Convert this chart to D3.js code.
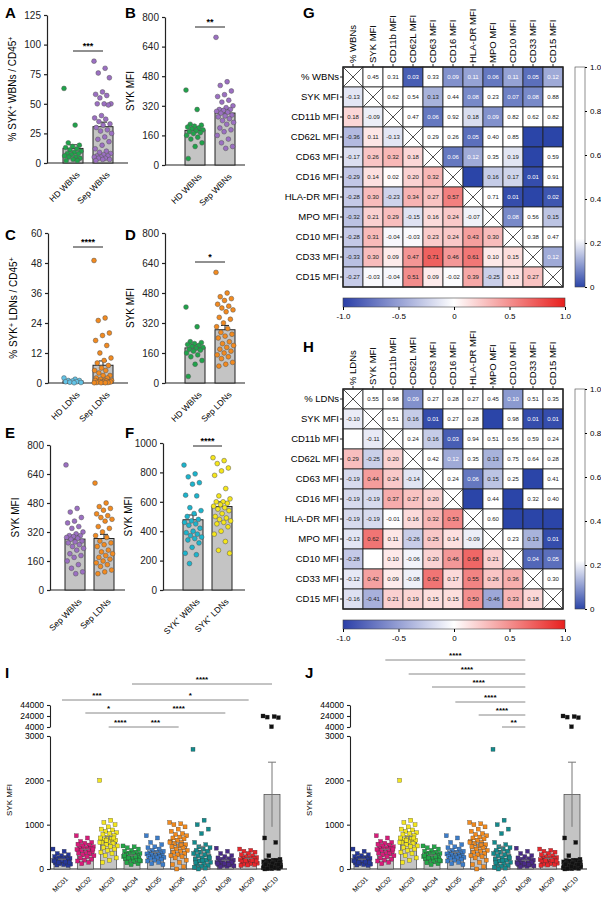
<!DOCTYPE html>
<html><head><meta charset="utf-8">
<script src="https://cdn.jsdelivr.net/npm/d3@7"></script>
<style>body{margin:0;background:#fff}svg{font-family:"Liberation Sans",Arial,sans-serif}</style>
</head><body>
<svg id="fig" width="601" height="900"></svg>
<script>
// ---- data ----
var hdWBN_pct = [63,32,17,15,14,13,12,11,10,9,8,8,7,6,5,5,4,3,2,2];
var sepWBN_pct = [86,80,76,72,60,58,57,55,50,50,50,49,40,38,37,35,33,32,30,28,27,25,22,20,18,15,12,10,9,8,7,6,6,5,5,4,4,3,3,2];
var hdWBN_mfi = [405,300,220,215,210,205,200,195,190,185,180,175,170,160,150,140,120,100,35];
var sepWBN_mfi = [690,450,430,400,380,370,350,340,320,310,300,300,295,290,285,280,270,265,260,250,240,230,220,200,190,180,160,140,120,100,90];
var hdLDN_pct = [2,1.5,1,1,0.8,0.5,0.5,0.3,0.2,0.1];
var sepLDN_pct = [49,26,25,20,19,17,15,12,10,9,8,7,6,5,5,4,3,3,2,2,1.5,1,1,0.5,0.5,0.3,1,0.8,0.6,0.4,0.3,0.2,0.2,0.1,0.1,0.1];
var sepLDN_mfi = [590,480,460,450,440,420,410,400,390,380,350,340,320,300,290,270,260,250,240,220,210,200,190,180,170,160,150,140,130,110,100,90];
var sykWBN_mfi = [850,790,770,730,720,645,640,560,540,520,500,480,470,460,450,440,420,400,390,380,370,360,350,340,320,290,250,240,180];
var sykLDN_mfi = [900,880,860,830,810,780,690,640,620,600,600,590,580,570,560,550,540,520,500,490,480,470,460,450,430,400,380,330,270,250];

var clusters = ["MC01","MC02","MC03","MC04","MC05","MC06","MC07","MC08","MC09","MC10"];
var clusterColors = ["#26379a","#d81b7a","#f2e51e","#23a647","#3b7cc9","#f28a1c","#138a8c","#4a2a88","#e8262b","#111111"];
var clusterValues = [
  [450,400,350,320,300,280,260,250,240,230,220,210,200,190,180,170,160,150,140,130,120,110,100,90,80,200,180,160,150,140],
  [750,700,620,600,580,560,540,520,500,480,470,460,450,440,430,420,400,380,360,340,320,300,280,250,220,200,180,150,120,450],
  [2000,1100,1050,1000,950,900,880,850,820,800,780,750,720,700,680,660,650,620,600,580,550,520,500,480,450,420,380,350,300,250,200,150,700,650,600],
  [520,500,480,450,420,400,380,360,350,340,320,300,290,280,270,260,250,240,230,220,200,180,160,140,120,100,300,280,250,200],
  [750,700,600,550,500,480,450,420,400,380,370,360,350,340,330,320,310,300,290,280,270,260,250,240,220,200,180,150,120,100],
  [1050,1020,1000,950,900,850,800,780,750,720,700,680,650,620,600,580,550,520,500,480,450,420,400,380,350,320,300,280,250,200,150,100,50,0,600,550],
  [2700,1100,1000,900,800,600,550,500,480,450,420,400,380,350,320,300,280,250,220,200,180,150,120,100,80,60,40,20,0,250,200,150],
  [470,400,350,300,280,250,230,220,200,190,180,170,160,150,140,130,120,110,100,90,80,70,60,50,150,130,120,100],
  [450,420,400,380,350,320,300,280,260,250,240,230,220,210,200,190,180,170,160,150,140,130,120,110,100,90,80,200,190,180],
  [24000,23000,22000,21000,4500,700,600,300,220,200,190,180,170,160,150,140,130,120,110,100,95,90,85,80,75,70,65,60,55,50,45,40,35,30,25,20,15,10,5,0,200,180,160,140,120,100,80,60,40,20,150,130,110,90,70,50,30,10,100,60]
];
var sigI = [{a:0,b:3,lab:"***",y:700},{a:1,b:3,lab:"*",y:713},{a:2,b:3,lab:"****",y:727},
            {a:3,b:9,lab:"****",y:684},{a:3,b:8,lab:"*",y:700},{a:3,b:7,lab:"****",y:713},{a:3,b:5,lab:"***",y:727}];
var sigJ = [{a:1,b:7,lab:"****",y:660},{a:2,b:7,lab:"****",y:674},{a:3,b:7,lab:"****",y:687},
            {a:4,b:7,lab:"****",y:702},{a:5,b:7,lab:"****",y:715},{a:6,b:7,lab:"**",y:727}];

var markers = ["% WBNs","SYK MFI","CD11b MFI","CD62L MFI","CD63 MFI","CD16 MFI","HLA-DR MFI","MPO MFI","CD10 MFI","CD33 MFI","CD15 MFI"];
var markersH = ["% LDNs"].concat(markers.slice(1));
var rG = [[-0.13],[0.18,-0.09],[-0.36,0.11,-0.13],[-0.17,0.26,0.32,0.18],[-0.29,0.14,0.02,0.20,0.32],
  [-0.28,0.30,-0.23,0.34,0.27,0.57],[-0.32,0.21,0.29,-0.15,0.16,0.24,-0.07],[-0.28,0.31,-0.04,-0.03,0.23,0.24,0.43,0.30],
  [-0.33,0.30,0.09,0.47,0.71,0.46,0.61,0.10,0.15],[-0.27,-0.03,-0.04,0.51,0.09,-0.02,0.39,-0.25,0.13,0.27]];
var pG = [[0.45,0.31,0.03,0.33,0.09,0.11,0.06,0.11,0.05,0.12],[0.62,0.54,0.13,0.44,0.08,0.23,0.07,0.08,0.88],
  [0.47,0.06,0.92,0.18,0.09,0.82,0.62,0.82],[0.29,0.26,0.05,0.40,0.85,null,null],[0.06,0.12,0.35,0.19,null,0.59],
  [null,0.16,0.17,0.01,0.91],[0.71,0.01,null,0.02],[0.08,0.56,0.15],[0.38,0.47],[0.12]];
var rH = [[-0.10],[null,-0.11],[0.29,-0.25,0.20],[-0.19,0.44,0.24,-0.14],[-0.19,-0.19,0.37,0.27,0.20],
  [-0.19,-0.19,-0.01,0.16,0.32,0.53],[-0.13,0.62,0.11,-0.26,0.25,0.14,-0.09],[-0.28,null,0.10,-0.06,0.20,0.46,0.68,0.21],
  [-0.12,0.42,0.09,-0.08,0.62,0.17,0.55,0.26,0.36],[-0.16,-0.41,0.21,0.19,0.15,0.15,0.50,-0.46,0.33,0.18]];
var pH = [[0.55,0.98,0.09,0.27,0.28,0.27,0.45,0.10,0.51,0.35],[0.51,0.16,0.01,0.27,0.28,null,0.98,0.01,0.01],
  [0.24,0.16,0.03,0.94,0.51,0.56,0.59,0.24],[0.42,0.12,0.35,0.13,0.75,0.64,0.28],[0.24,0.06,0.15,0.25,null,0.41],
  [null,0.44,null,0.32,0.40],[0.60,null,null,null],[0.23,0.13,0.01],[0.04,0.05],[0.30]];

var svg = d3.select("#fig");
var ink = "#222";
var fmt2 = function(v){ return d3.format(".2f")(v).replace("−","-"); };
var fmt1 = function(v){ return v===0 ? "0" : d3.format(".1f")(v).replace("−","-"); };

function jit(i, w){ return (((i*0.6180339) % 1) - 0.5) * w; }
function sem(a){ return d3.deviation(a)/Math.sqrt(a.length); }

function letter(t, x, y){
  svg.append("text").attr("x",x).attr("y",y).attr("font-size",15).attr("font-weight","bold").text(t);
}

function barPanel(o){
  var g = svg.append("g");
  var y = d3.scaleLinear().domain(o.domain).range([o.zero, o.top]);
  var x = d3.scalePoint().domain(o.groups.map(function(d){return d.name;})).range(o.centers);
  g.append("g").attr("transform","translate("+o.ax+",0)")
    .call(d3.axisLeft(y).tickValues(o.ticks).tickFormat(d3.format("d")).tickSize(3).tickSizeOuter(0))
    .call(function(s){ s.selectAll("text").attr("font-size",10).attr("fill",ink); s.selectAll("line,path").attr("stroke",ink).attr("stroke-width",1.2); });
  g.append("line").attr("x1",o.ax).attr("x2",o.end).attr("y1",o.zero).attr("y2",o.zero).attr("stroke",ink).attr("stroke-width",1.2);
  o.groups.forEach(function(gr){
    var cx = x(gr.name), m = d3.mean(gr.data), e = sem(gr.data);
    g.append("rect").attr("x",cx-10).attr("width",20).attr("y",y(m)).attr("height",o.zero-y(m))
      .attr("fill","#c4c4c4").attr("stroke",ink).attr("stroke-width",1);
    g.append("line").attr("x1",cx).attr("x2",cx).attr("y1",y(m)).attr("y2",y(m+e)).attr("stroke",ink);
    g.append("line").attr("x1",cx-4).attr("x2",cx+4).attr("y1",y(m+e)).attr("y2",y(m+e)).attr("stroke",ink);
    g.selectAll(null).data(gr.data).enter().append("circle")
      .attr("cx",function(d,i){return cx+jit(i,18);}).attr("cy",function(d){return y(d);}).attr("r",2.4)
      .attr("fill",gr.color).attr("stroke","#555").attr("stroke-width",0.5);
    g.append("text").attr("transform","translate("+(cx+3)+","+(o.zero+8)+") rotate(-45)")
      .attr("text-anchor","end").attr("font-size",8.5).attr("dy","0.7em").text(gr.label);
  });
  g.append("text").attr("transform","translate("+(o.ax-31)+","+((o.top+o.zero)/2)+") rotate(-90)")
    .attr("text-anchor","middle").attr("font-size",10).html(o.ytitle);
  if(o.sig){
    g.append("line").attr("x1",o.centers[0]).attr("x2",o.centers[1]).attr("y1",o.sig.y).attr("y2",o.sig.y).attr("stroke",ink);
    g.append("text").attr("x",(o.centers[0]+o.centers[1])/2).attr("y",o.sig.y-2).attr("text-anchor","middle")
      .attr("font-size",9).attr("font-weight","bold").text(o.sig.lab);
  }
}

var sup = function(s){ return '<tspan baseline-shift="super" font-size="7">'+s+'</tspan>'; };
var t800 = [0,160,320,480,640,800];

letter("A",5,18);
barPanel({ax:47,top:15,zero:163,end:128,domain:[0,125],ticks:[0,25,50,75,100,125],centers:[73,103],
  groups:[{name:"a",data:hdWBN_pct,color:"#1fa34a",label:"HD WBNs"},{name:"b",data:sepWBN_pct,color:"#9b6fc2",label:"Sep WBNs"}],
  ytitle:"% SYK"+sup("+")+" WBNs / CD45"+sup("+"),sig:{y:51,lab:"***"}});
letter("B",125,18);
barPanel({ax:165,top:17,zero:165,end:245,domain:[0,800],ticks:t800,centers:[195,225],
  groups:[{name:"a",data:hdWBN_mfi,color:"#1fa34a",label:"HD WBNs"},{name:"b",data:sepWBN_mfi,color:"#9b6fc2",label:"Sep WBNs"}],
  ytitle:"SYK MFI",sig:{y:27,lab:"**"}});
letter("C",5,240);
barPanel({ax:48,top:233,zero:383,end:128,domain:[0,60],ticks:[0,12,24,36,48,60],centers:[73,103],
  groups:[{name:"a",data:hdLDN_pct,color:"#62c3e6",label:"HD LDNs"},{name:"b",data:sepLDN_pct,color:"#f28a1f",label:"Sep LDNs"}],
  ytitle:"% SYK"+sup("+")+" LDNs / CD45"+sup("+"),sig:{y:247,lab:"****"}});
letter("D",125,240);
barPanel({ax:165,top:233,zero:383,end:245,domain:[0,800],ticks:t800,centers:[195,225],
  groups:[{name:"a",data:hdWBN_mfi,color:"#1fa34a",label:"HD WBNs"},{name:"b",data:sepLDN_mfi,color:"#f28a1f",label:"Sep LDNs"}],
  ytitle:"SYK MFI",sig:{y:262,lab:"*"}});
letter("E",5,438);
barPanel({ax:50,top:445,zero:590,end:125,domain:[0,800],ticks:t800,centers:[75,104],
  groups:[{name:"a",data:sepWBN_mfi,color:"#9b6fc2",label:"Sep WBNs"},{name:"b",data:sepLDN_mfi,color:"#f28a1f",label:"Sep LDNs"}],
  ytitle:"SYK MFI"});
letter("F",125,438);
barPanel({ax:163,top:443,zero:590,end:245,domain:[0,1000],ticks:[0,200,400,600,800,1000],centers:[193,222],
  groups:[{name:"a",data:sykWBN_mfi,color:"#1bb4cc",label:"SYK⁺ WBNs"},{name:"b",data:sykLDN_mfi,color:"#f5e61a",label:"SYK⁺ LDNs"}],
  ytitle:"SYK MFI",sig:{y:446,lab:"****"}});

// ---- heatmaps ----
var rColor = d3.scaleLinear().domain([-1,0,1]).range(["#2b3fa8","#ffffff","#e8201e"]);
var pColor = d3.scaleLinear().domain([0,0.22,1]).range(["#2b45a8","#ffffff","#ffffff"]).clamp(true);

function heatmap(letterY, names, rr, pp, top){
  var left = 343, n = names.length;
  var b = d3.scaleBand().domain(d3.range(n)).range([0,220]);
  var g = svg.append("g").attr("transform","translate("+left+","+top+")");
  for(var i=0;i<n;i++) for(var j=0;j<n;j++){
    var v=null, fill="#fff", col="#222";
    if(i>j){ v = rr[i-1][j]; if(v!==null) fill = rColor(v); }
    else if(j>i){ v = pp[i][j-i-1]; fill = v===null ? pColor(0) : pColor(v); if(v!==null && v<0.13) col="#fff"; }
    g.append("rect").attr("x",b(j)).attr("y",b(i)).attr("width",b.bandwidth()).attr("height",b.bandwidth())
      .attr("fill",fill).attr("stroke","#222").attr("stroke-width",0.8);
    if(i===j){
      g.append("path").attr("d","M"+b(j)+","+b(i)+"l20,20M"+(b(j)+20)+","+b(i)+"l-20,20").attr("stroke","#222").attr("stroke-width",0.8);
    } else if(v!==null){
      g.append("text").attr("x",b(j)+10).attr("y",b(i)+10).attr("dy","0.35em").attr("text-anchor","middle")
        .attr("font-size",6).attr("fill",col).text(fmt2(v));
    }
  }
  g.append("rect").attr("width",220).attr("height",220).attr("fill","none").attr("stroke","#222").attr("stroke-width",1.4);
  names.forEach(function(nm,k){
    g.append("text").attr("x",-4).attr("y",b(k)+10).attr("dy","0.35em").attr("text-anchor","end").attr("font-size",9.5).text(nm);
    g.append("line").attr("x1",-3).attr("x2",0).attr("y1",b(k)+10).attr("y2",b(k)+10).attr("stroke","#222");
    g.append("text").attr("transform","translate("+(b(k)+10)+",-4) rotate(-90)").attr("dy","0.35em").attr("font-size",9.5).text(nm);
    g.append("line").attr("x1",b(k)+10).attr("x2",b(k)+10).attr("y1",-3).attr("y2",0).attr("stroke","#222");
  });
  // horizontal r colour bar
  var gid = "gr"+top;
  var grad = svg.append("defs").append("linearGradient").attr("id",gid);
  [-1,0,1].forEach(function(v){ grad.append("stop").attr("offset",((v+1)/2*100)+"%").attr("stop-color",rColor(v)); });
  var cb = svg.append("g").attr("transform","translate("+left+","+(top+231)+")");
  cb.append("rect").attr("width",222).attr("height",9).attr("fill","url(#"+gid+")").attr("stroke","#444").attr("stroke-width",0.6);
  var cx = d3.scaleLinear().domain([-1,1]).range([0,222]);
  cb.append("g").attr("transform","translate(0,9)").call(d3.axisBottom(cx).tickValues([-1,-0.5,0,0.5,1]).tickFormat(fmt1).tickSize(3))
    .call(function(s){ s.select(".domain").remove(); s.selectAll("text").attr("font-size",8); });
  // vertical p colour bar
  var vid = "gp"+top;
  var vg = svg.append("defs").append("linearGradient").attr("id",vid).attr("x1",0).attr("y1",1).attr("x2",0).attr("y2",0);
  [0,0.22,1].forEach(function(v){ vg.append("stop").attr("offset",(v*100)+"%").attr("stop-color",pColor(v)); });
  var py = d3.scaleLinear().domain([0,1]).range([top+220,top]);
  svg.append("rect").attr("x",575).attr("y",top).attr("width",10).attr("height",220).attr("fill","url(#"+vid+")").attr("stroke","#444").attr("stroke-width",0.6);
  svg.append("g").attr("transform","translate(585,0)").call(d3.axisRight(py).tickValues([0,0.2,0.4,0.6,0.8,1]).tickSize(2).tickFormat(fmt1))
    .call(function(s){ s.select(".domain").remove(); s.selectAll("text").attr("font-size",8); });
  letter(letterY.t, 303, letterY.y);
}
heatmap({t:"G",y:18}, markers, rG, pG, 67);
heatmap({t:"H",y:352}, markersH, rH, pH, 389);

// ---- cluster panels with broken axis ----
function clusterPanel(ox, sigs, lab){
  var ax = ox+50, zero = 869;
  var yl = d3.scaleLinear().domain([0,3000]).range([zero,736]);
  var yu = d3.scaleLinear().domain([4000,44000]).range([727,705]);
  var Y = function(v){ return v<=3000 ? yl(v) : yu(Math.max(v,4000)); };
  var x = d3.scalePoint().domain(clusters).range([ox+62, ox+272]);
  var g = svg.append("g");
  [[yl,[0,1000,2000,3000]],[yu,[4000,24000,44000]]].forEach(function(p){
    g.append("g").attr("transform","translate("+ax+",0)").call(d3.axisLeft(p[0]).tickValues(p[1]).tickFormat(d3.format("d")).tickSize(3).tickSizeOuter(0))
      .call(function(s){ s.selectAll("text").attr("font-size",8.5); s.selectAll("line,path").attr("stroke",ink).attr("stroke-width",1.1); });
  });
  g.append("line").attr("x1",ax).attr("x2",ox+287).attr("y1",zero).attr("y2",zero).attr("stroke",ink).attr("stroke-width",1.1);
  g.append("text").attr("transform","translate("+(ox+12)+",800) rotate(-90)").attr("text-anchor","middle").attr("font-size",8).text("SYK MFI");
  clusters.forEach(function(c,k){
    var d = clusterValues[k], cx = x(c), m = d3.mean(d), e = sem(d);
    g.append("rect").attr("x",cx-8).attr("width",16).attr("y",Y(m)).attr("height",zero-Y(m)).attr("fill","#c4c4c4").attr("stroke","#444").attr("stroke-width",0.7);
    g.selectAll(null).data(d).enter().append("rect")
      .attr("x",function(v,i){return cx+jit(i,18)-2;}).attr("y",function(v){return Y(v)-2;}).attr("width",4).attr("height",4)
      .attr("fill",clusterColors[k]).attr("stroke","#333").attr("stroke-width",0.3);
    g.append("line").attr("x1",cx).attr("x2",cx).attr("y1",Y(m-e)).attr("y2",Y(m+e)).attr("stroke","#777");
    g.append("line").attr("x1",cx-4).attr("x2",cx+4).attr("y1",Y(m+e)).attr("y2",Y(m+e)).attr("stroke","#777");
    g.append("text").attr("transform","translate("+(cx+3)+","+(zero+7)+") rotate(-45)").attr("text-anchor","end").attr("dy","0.7em").attr("font-size",7).text(c);
  });
  sigs.forEach(function(s){
    g.append("line").attr("x1",x(clusters[s.a])).attr("x2",x(clusters[s.b])).attr("y1",s.y).attr("y2",s.y).attr("stroke","#888");
    g.append("text").attr("x",(x(clusters[s.a])+x(clusters[s.b]))/2).attr("y",s.y-2).attr("text-anchor","middle").attr("font-size",8).attr("font-weight","bold").text(s.lab);
  });
  letter(lab, ox+5, 678);
}
clusterPanel(0, sigI, "I");
clusterPanel(300, sigJ, "J");
</script>
</body></html>
